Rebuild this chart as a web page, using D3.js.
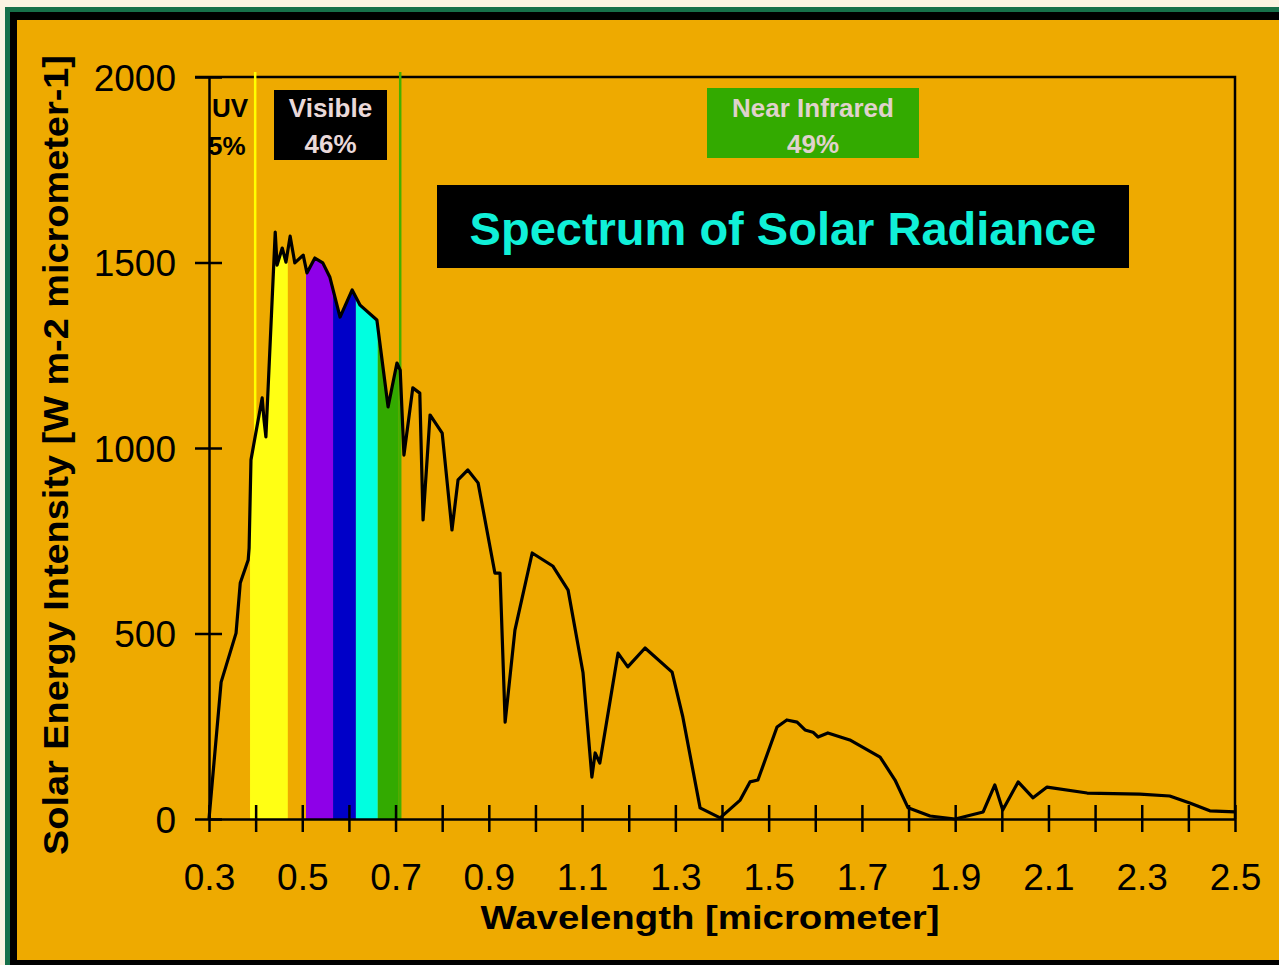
<!DOCTYPE html>
<html>
<head>
<meta charset="utf-8">
<script src="https://cdn.jsdelivr.net/npm/d3@7"></script>
<style>
html, body { margin: 0; padding: 0; background: #fbf3e2; overflow: hidden; }
svg { display: block; }
text { font-family: "Liberation Sans", Arial, Helvetica, sans-serif; }
</style>
</head>
<body>
<div id="chart"></div>
<script>
// solar spectrum
const wavelength = [0.300, 0.326, 0.358, 0.367, 0.384, 0.386, 0.390, 0.414, 0.418, 0.422,
  0.442, 0.446, 0.457, 0.465, 0.474, 0.484, 0.502, 0.510, 0.527, 0.544,
  0.559, 0.581, 0.607, 0.624, 0.660, 0.684, 0.703, 0.710, 0.718, 0.737,
  0.752, 0.759, 0.774, 0.800, 0.821, 0.834, 0.855, 0.877, 0.913, 0.924,
  0.935, 0.956, 0.993, 1.037, 1.070, 1.102, 1.121, 1.128, 1.138, 1.177,
  1.198, 1.235, 1.293, 1.316, 1.353, 1.396, 1.439, 1.460, 1.477, 1.518,
  1.539, 1.561, 1.578, 1.595, 1.606, 1.627, 1.674, 1.739, 1.771, 1.799,
  1.846, 1.900, 1.960, 1.985, 2.002, 2.035, 2.067, 2.097, 2.183, 2.296,
  2.360, 2.403, 2.446, 2.500];
const intensity = [0, 369, 501, 636, 698, 730, 968, 1135, 1075, 1030,
  1582, 1493, 1539, 1501, 1571, 1499, 1520, 1472, 1512, 1499,
  1461, 1353, 1426, 1385, 1345, 1111, 1229, 1210, 981, 1162,
  1148, 806, 1089, 1040, 779, 914, 941, 906, 663, 663,
  261, 509, 717, 682, 617, 394, 113, 178, 151, 447,
  410, 461, 396, 275, 30, 3, 51, 100, 105, 248,
  267, 261, 240, 234, 221, 232, 213, 167, 105, 30,
  8, 0, 19, 92, 24, 100, 57, 86, 70, 67,
  62, 43, 22, 19];

// coloured visible bands (start / end wavelength)
const bandStart = [0.388, 0.508, 0.566, 0.615, 0.662];
const bandEnd = [0.469, 0.566, 0.615, 0.662, 0.707];
const bandColors = ["#ffff14", "#8e00e8", "#0000c8", "#00ffe0", "#33aa00"];

// region dividers
const dividers = [0.399, 0.710];
const dividerColors = ["#ffff00", "#44b000"];

const xTickValues = d3.range(3, 26).map(i => i / 10);
const xTickLabels = ["0.3", "0.5", "0.7", "0.9", "1.1", "1.3", "1.5", "1.7", "1.9", "2.1", "2.3", "2.5"];
const yTickValues = [0, 500, 1000, 1500, 2000];

const W = 1279, H = 965;
const svg = d3.select("#chart").append("svg")
  .attr("width", W)
  .attr("height", H);

// picture frame
svg.append("rect").attr("x", 5).attr("y", 7).attr("width", W).attr("height", H).attr("fill", "#17704a");
svg.append("rect").attr("x", 10).attr("y", 12).attr("width", W).attr("height", H).attr("fill", "#000");
svg.append("rect").attr("x", 17).attr("y", 20).attr("width", W - 17).attr("height", 940).attr("fill", "#eeaa00");

const x = d3.scaleLinear().domain([0.3, 2.5]).range([209, 1235]);
const y = d3.scaleLinear().domain([0, 2000]).range([819, 77]);

const points = wavelength.map((w, i) => [w, intensity[i]]);

function valueAt(w) {
  for (let i = 0; i < points.length - 1; i++) {
    if (w >= points[i][0] && w <= points[i + 1][0]) {
      const t = (w - points[i][0]) / (points[i + 1][0] - points[i][0]);
      return points[i][1] + t * (points[i + 1][1] - points[i][1]);
    }
  }
  return 0;
}

// plot box (top + right)
svg.append("path")
  .attr("d", `M${x(0.3) - 14},${y(2000)}H${x(2.5)}V${y(0)}`)
  .attr("fill", "none")
  .attr("stroke", "#000")
  .attr("stroke-width", 2.5);

svg.append("g").selectAll("line")
  .data(dividers)
  .enter().append("line")
    .attr("x1", d => x(d))
    .attr("x2", d => x(d))
    .attr("y1", y(2000) - 5)
    .attr("y2", y(0))
    .attr("stroke", (d, i) => dividerColors[i])
    .attr("stroke-width", 2.5);

const area = d3.area()
  .x(d => x(d[0]))
  .y0(y(0))
  .y1(d => y(d[1]));

svg.append("g").selectAll("path")
  .data(bandStart.map((s, i) => {
    const e = bandEnd[i];
    const inner = points.filter(p => p[0] > s && p[0] < e);
    return [[s, valueAt(s)], ...inner, [e, valueAt(e)]];
  }))
  .enter().append("path")
    .attr("d", area)
    .attr("fill", (d, i) => bandColors[i]);

const line = d3.line()
  .x(d => x(d[0]))
  .y(d => y(d[1]));

svg.append("path")
  .datum(points)
  .attr("d", line)
  .attr("fill", "none")
  .attr("stroke", "#000")
  .attr("stroke-width", 3.2)
  .attr("stroke-linejoin", "round");

// axes
const xAxis = svg.append("g")
  .attr("transform", `translate(0,${y(0)})`)
  .call(d3.axisBottom(x)
    .tickValues(xTickValues)
    .tickSizeOuter(0)
    .tickFormat(d => xTickLabels.includes(d.toFixed(1)) ? d.toFixed(1) : ""));
xAxis.select(".domain").attr("stroke", "#000").attr("stroke-width", 2.5);
xAxis.selectAll(".tick line").attr("y1", -14).attr("y2", 13).attr("stroke", "#000").attr("stroke-width", 2.5);
xAxis.selectAll(".tick text").attr("y", 71).attr("dy", 0)
  .attr("font-size", 37).attr("fill", "#000")
  .style("font-family", '"Liberation Sans", Arial, sans-serif');

const yAxis = svg.append("g")
  .attr("transform", `translate(${x(0.3)},0)`)
  .call(d3.axisLeft(y).tickValues(yTickValues).tickSizeOuter(0).tickFormat(d3.format("d")));
yAxis.select(".domain").attr("stroke", "#000").attr("stroke-width", 2.5);
yAxis.selectAll(".tick line").attr("x1", -14).attr("x2", 13).attr("stroke", "#000").attr("stroke-width", 2.5);
yAxis.selectAll(".tick text").attr("x", -33).attr("dy", "0.36em")
  .attr("font-size", 37).attr("fill", "#000")
  .style("font-family", '"Liberation Sans", Arial, sans-serif');

// axis titles
svg.append("text")
  .attr("x", 710)
  .attr("y", 929)
  .attr("text-anchor", "middle")
  .attr("font-size", 34)
  .attr("font-weight", "bold")
  .attr("textLength", 459)
  .attr("lengthAdjust", "spacingAndGlyphs")
  .text("Wavelength [micrometer]");

svg.append("text")
  .attr("transform", "translate(68,455) rotate(-90)")
  .attr("text-anchor", "middle")
  .attr("font-size", 35)
  .attr("font-weight", "bold")
  .attr("textLength", 800)
  .attr("lengthAdjust", "spacingAndGlyphs")
  .text("Solar Energy Intensity [W m-2 micrometer-1]");

// region labels
svg.append("text").attr("x", 212).attr("y", 117).attr("font-size", 26).attr("font-weight", "bold").text("UV");
svg.append("text").attr("x", 208).attr("y", 155).attr("font-size", 26).attr("font-weight", "bold").text("5%");

svg.append("rect").attr("x", 274).attr("y", 90).attr("width", 113).attr("height", 70).attr("fill", "#000");
svg.append("text").attr("x", 330.5).attr("y", 117).attr("text-anchor", "middle")
  .attr("font-size", 26).attr("font-weight", "bold").attr("fill", "#ead9d9").text("Visible");
svg.append("text").attr("x", 330.5).attr("y", 153).attr("text-anchor", "middle")
  .attr("font-size", 26).attr("font-weight", "bold").attr("fill", "#ead9d9").text("46%");

svg.append("rect").attr("x", 707).attr("y", 88).attr("width", 212).attr("height", 70).attr("fill", "#33aa00");
svg.append("text").attr("x", 813).attr("y", 117).attr("text-anchor", "middle")
  .attr("font-size", 26).attr("font-weight", "bold").attr("fill", "#e0d2cc").text("Near Infrared");
svg.append("text").attr("x", 813).attr("y", 153).attr("text-anchor", "middle")
  .attr("font-size", 26).attr("font-weight", "bold").attr("fill", "#e0d2cc").text("49%");

// title
svg.append("rect").attr("x", 437).attr("y", 185).attr("width", 692).attr("height", 83).attr("fill", "#000");
svg.append("text").attr("x", 783).attr("y", 245).attr("text-anchor", "middle")
  .attr("font-size", 47).attr("font-weight", "bold").attr("fill", "#10f0d8")
  .text("Spectrum of Solar Radiance");
</script>
</body>
</html>
